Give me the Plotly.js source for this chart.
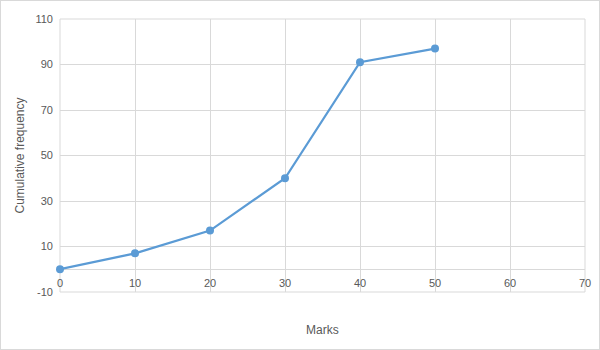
<!DOCTYPE html>
<html>
<head>
<meta charset="utf-8">
<script src="https://cdn.plot.ly/plotly-3.0.1.min.js"></script>
<style>
html,body{margin:0;padding:0;background:#fff;}
#chart{width:598px;height:348px;border:1px solid #d9d9d9;}
</style>
</head>
<body>
<div id="chart"></div>
<script>
const marks = [0, 10, 20, 30, 40, 50];
const cumulativeFrequency = [0, 7, 17, 40, 91, 97];
const xTicks = [0, 10, 20, 30, 40, 50, 60, 70];
const yTicks = [-10, 10, 30, 50, 70, 90, 110];

const fontFam = 'Liberation Sans, Arial, sans-serif';
const trace = {
  x: marks,
  y: cumulativeFrequency,
  type: 'scatter',
  mode: 'lines+markers',
  line: {color: '#5b9bd5', width: 2.25},
  marker: {color: '#5b9bd5', size: 8},
  cliponaxis: false,
  hoverinfo: 'x+y'
};

const layout = {
  width: 598, height: 348,
  margin: {l: 59, r: 14, t: 18, b: 57},
  paper_bgcolor: '#ffffff',
  plot_bgcolor: '#ffffff',
  showlegend: false,
  font: {family: fontFam, color: '#595959', size: 11},
  xaxis: {
    range: [0, 70],
    tickvals: xTicks,
    ticktext: xTicks.map(String),
    showgrid: true, gridcolor: '#d9d9d9', gridwidth: 1,
    zeroline: false, showline: false,
    ticks: '',
    anchor: 'free',
    position: 10/120,
    ticklabelstandoff: 6,
    tickfont: {family: fontFam, color: '#595959', size: 11}
  },
  yaxis: {
    range: [-10, 110],
    tickvals: yTicks,
    ticktext: yTicks.map(String),
    showgrid: true, gridcolor: '#d9d9d9', gridwidth: 1,
    zeroline: true, zerolinecolor: '#d9d9d9', zerolinewidth: 1,
    showline: false,
    ticks: '',
    ticklabelstandoff: 6,
    tickfont: {family: fontFam, color: '#595959', size: 11},
    title: {text: 'Cumulative frequency', font: {family: fontFam, color: '#595959', size: 12}, standoff: 8}
  },
  shapes: [{
    type: 'rect', xref: 'paper', yref: 'paper', x0: 0, x1: 1, y0: 0, y1: 1,
    line: {color: '#d9d9d9', width: 1}, layer: 'below'
  }],
  annotations: [{
    text: 'Marks', xref: 'paper', yref: 'paper', x: 0.5, y: -0.14,
    xanchor: 'center', yanchor: 'middle', showarrow: false,
    font: {family: fontFam, color: '#595959', size: 12}
  }]
};

Plotly.newPlot('chart', [trace], layout, {displayModeBar: false, staticPlot: true});
</script>
</body>
</html>
